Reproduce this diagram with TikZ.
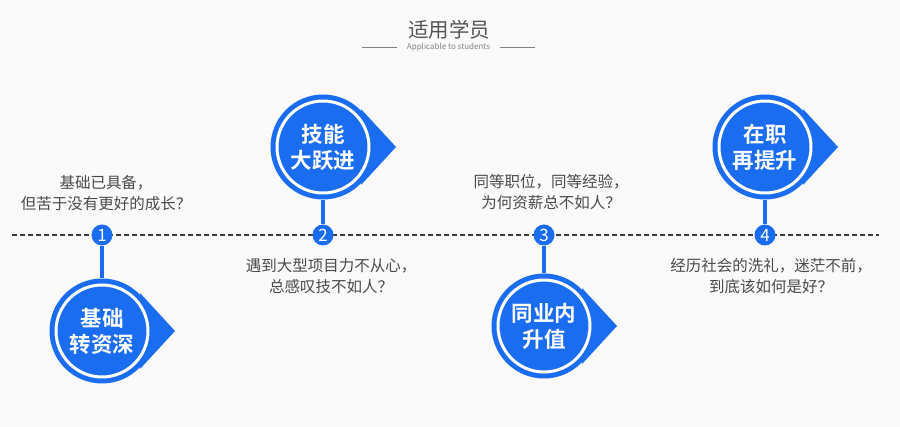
\documentclass[tikz,border=0pt]{standalone}
\usepackage{fontspec}
\setmainfont{Noto Sans CJK SC}[BoldFont={Noto Sans CJK SC Bold}]
\definecolor{mainblue}{RGB}{26,109,240}
\definecolor{txtgray}{RGB}{74,74,74}
\definecolor{titlegray}{RGB}{85,85,85}
\definecolor{subgray}{RGB}{130,130,130}
\definecolor{bgcol}{RGB}{250,250,250}
\definecolor{dashgray}{RGB}{60,60,60}
\begin{document}
\begin{tikzpicture}[x=1pt,y=-1pt,
  desc/.style={text=txtgray, font=\fontsize{15.5}{21}\selectfont, align=center, inner sep=0pt},
  stemline/.style={draw=mainblue, line width=4pt},
  dot/.style={circle, fill=mainblue, minimum size=21pt, inner sep=0pt, text=white, font=\fontsize{17}{17}\selectfont},
  bigc/.style={circle, fill=mainblue, minimum size=105pt, inner sep=0pt},
  ringtxt/.style={circle, draw=white, line width=3pt, minimum size=92pt, inner sep=0pt, text=white, align=center, font=\bfseries\fontsize{21.5}{26}\selectfont},
  pointer/.style={fill=mainblue},
  timeline/.style={draw=dashgray, line width=1.2pt, dash pattern=on 5pt off 3pt},
  subline/.style={draw=subgray, line width=0.8pt}
]
\useasboundingbox[fill=bgcol] (0,0) rectangle (900,427);

% title
\node[text=titlegray, font=\fontsize{20.5}{20.5}\selectfont, inner sep=0pt] (title) at (449,30) {适用学员};
\node[text=subgray, font=\fontsize{8}{8}\selectfont, inner sep=0pt] (sub) at (448.5,47) {Applicable to students};
\coordinate (a1) at (362,47); \coordinate (a2) at (397,47);
\coordinate (b1) at (500,47); \coordinate (b2) at (535,47);
\draw[subline] (a1) -- (a2);
\draw[subline] (b1) -- (b2);

% timeline
\coordinate (L) at (12,235); \coordinate (R) at (879,235);
\draw[timeline] (L) -- (R);

% big circles
\node[bigc] (c1) at (102,331) {};
\node[bigc] (c2) at (323,147) {};
\node[bigc] (c3) at (544,326) {};
\node[bigc] (c4) at (765,147) {};
\foreach \c in {c1,c2,c3,c4}{
  \fill[pointer, shift={(\c.center)}] (38,-38) -- (73,0) -- (38,38) -- cycle;
}

% dots
\node[dot] (d1) at (102,235) {1};
\node[dot] (d2) at (323,235) {2};
\node[dot] (d3) at (544,235) {3};
\node[dot] (d4) at (765,235) {4};

% stems
\draw[stemline] (d1) -- (c1);
\draw[stemline] (d2) -- (c2);
\draw[stemline] (d3) -- (c3);
\draw[stemline] (d4) -- (c4);

% circle texts
\node[ringtxt] (t1) at (c1) {基础\\转资深};
\node[ringtxt] (t2) at (c2) {技能\\大跃进};
\node[ringtxt] (t3) at (c3) {同业内\\升值};
\node[ringtxt] (t4) at (c4) {在职\\再提升};

% descriptions
\node[desc] (q1) at (106,193) {基础已具备，\\但苦于没有更好的成长？};
\node[desc] (q2) at (331,276) {遇到大型项目力不从心，\\总感叹技不如人？};
\node[desc] (q3) at (551,192.5) {同等职位，同等经验，\\为何资薪总不如人？};
\node[desc] (q4) at (771,276.5) {经历社会的洗礼，迷茫不前，\\到底该如何是好？};
\end{tikzpicture}
\end{document}
